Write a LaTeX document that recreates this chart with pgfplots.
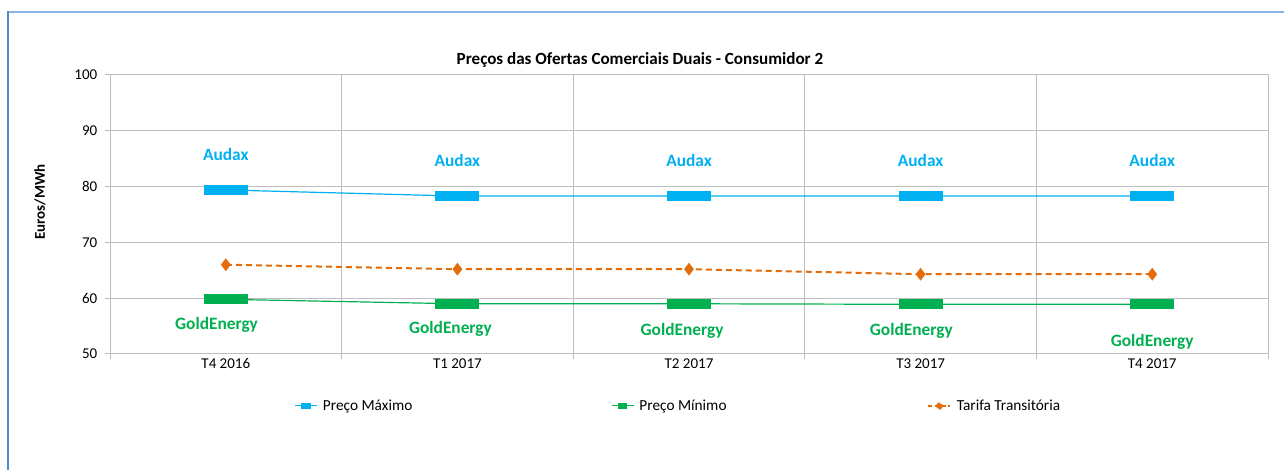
\documentclass[border=0pt]{standalone}
\usepackage{pgfplots}
\pgfplotsset{compat=1.18}
\usepackage{fontspec}
\setmainfont{Carlito}
\definecolor{cmax}{RGB}{0,176,240}
\definecolor{cmin}{RGB}{0,176,80}
\definecolor{ctar}{RGB}{228,108,10}
\definecolor{cgrid}{RGB}{190,190,190}
\definecolor{cframeA}{RGB}{141,180,226}
\definecolor{cframeB}{RGB}{80,140,208}
\pgfdeclareplotmark{bigrect}{\pgfpathrectangle{\pgfpoint{-16.5pt}{-3.75pt}}{\pgfpoint{33pt}{7.5pt}}\pgfusepathqfill}
\begin{document}
\begin{tikzpicture}
\useasboundingbox (0,0) rectangle (963pt,352.5pt);
\fill[white] (0,0) rectangle (963pt,352.5pt);
\draw[cframeA, line width=1.5pt] (6pt,343.5pt) -- (963pt,343.5pt);
\draw[cframeB, line width=1.5pt] (6pt,344.25pt) -- (6pt,0pt);
\node[font=\bfseries\fontsize{12.8}{15}\selectfont] at (480pt,307.5pt) {Preços das Ofertas Comerciais Duais - Consumidor 2};
\node[font=\bfseries\fontsize{11.2}{13}\selectfont, rotate=90] at (30pt,201pt) {Euros/MWh};
\begin{axis}[
  at={(82.5pt,87pt)}, anchor=south west,
  scale only axis, width=868.5pt, height=209.25pt,
  xmin=-0.5, xmax=4.5, ymin=50, ymax=100,
  ytick={50,60,...,100},
  xtick={-0.5,0.5,...,4.5}, xticklabels={},
  extra x ticks={0,1,2,3,4},
  extra x tick labels={T4 2016,T1 2017,T2 2017,T3 2017,T4 2017},
  extra x tick style={major tick length=0pt, xmajorgrids=false},
  xmajorgrids, ymajorgrids,
  grid style={cgrid, line width=0.75pt},
  axis line style={cgrid, line width=0.75pt},
  tick style={cgrid, line width=0.75pt},
  tick align=outside, major tick length=4pt,
  xtick pos=bottom, ytick pos=left,
  tick label style={font=\fontsize{11.25}{13}\selectfont, text=black},
  /pgf/number format/assume math mode=true,
  yticklabel style={xshift=-2pt},
  legend columns=3,
  legend style={at={(rel axis cs:0.1590,-0.186)}, anchor=west, draw=none, fill=none, inner sep=0pt,
    font=\fontsize{11.5}{13}\selectfont, /tikz/every odd column/.append style={column sep=2pt}},
  legend cell align=left,
  clip=false,
]
\addplot[cmax, line width=0.9pt, mark=bigrect,
  legend image code/.code={\draw[cmax, line width=0.9pt] (0pt,0pt) -- (16.5pt,0pt); \fill[cmax] (5pt,-1.6pt) rectangle (11.5pt,1.6pt);}]
  coordinates {(0,79.4) (1,78.3) (2,78.3) (3,78.3) (4,78.3)};
\addlegendentry{\makebox[214pt][l]{Preço Máximo}}
\addplot[cmin, line width=0.9pt, mark=bigrect,
  legend image code/.code={\draw[cmin, line width=0.9pt] (0pt,0pt) -- (16.5pt,0pt); \fill[cmin] (5pt,-1.6pt) rectangle (11.5pt,1.6pt);}]
  coordinates {(0,59.8) (1,59.0) (2,59.0) (3,58.9) (4,58.9)};
\addlegendentry{\makebox[214pt][l]{Preço Mínimo}}
\addplot[ctar, line width=1.5pt, dashed, dash pattern=on 4.5pt off 3pt, mark=diamond*, mark size=3.6pt, mark options={solid},
  legend image code/.code={\draw[ctar, line width=1.5pt, dash pattern=on 3pt off 2pt] (0pt,0pt) -- (16.5pt,0pt); \fill[ctar] (8.25pt,-2.6pt) -- (10.3pt,0pt) -- (8.25pt,2.6pt) -- (6.2pt,0pt) -- cycle;}]
  coordinates {(0,66.0) (1,65.2) (2,65.2) (3,64.3) (4,64.3)};
\addlegendentry{Tarifa Transitória}
\begin{scope}[every node/.style={font=\bfseries\fontsize{13}{15}\selectfont}]
\node[text=cmax] at (axis cs:0,85.8) {Audax};
\node[text=cmax] at (axis cs:1,84.7) {Audax};
\node[text=cmax] at (axis cs:2,84.7) {Audax};
\node[text=cmax] at (axis cs:3,84.7) {Audax};
\node[text=cmax] at (axis cs:4,84.7) {Audax};
\node[text=cmin] at (axis cs:-0.04,55.2) {GoldEnergy};
\node[text=cmin] at (axis cs:0.97,54.5) {GoldEnergy};
\node[text=cmin] at (axis cs:1.97,54.1) {GoldEnergy};
\node[text=cmin] at (axis cs:2.96,54.1) {GoldEnergy};
\node[text=cmin] at (axis cs:4.0,52.1) {GoldEnergy};
\end{scope}
\end{axis}
\end{tikzpicture}
\end{document}
